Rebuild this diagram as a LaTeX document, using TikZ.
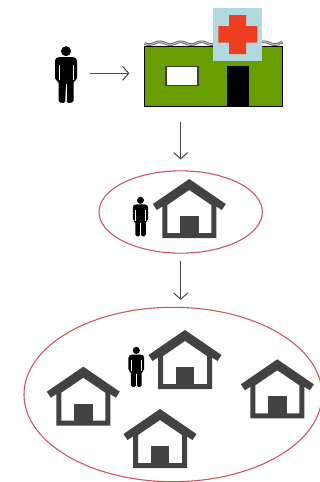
\documentclass[tikz,border=0pt]{standalone}
\usetikzlibrary{arrows.meta,shapes.geometric}
\definecolor{housegray}{RGB}{66,66,66}
\definecolor{ringred}{RGB}{205,85,95}
\definecolor{hgreen}{RGB}{104,158,0}
\definecolor{signblue}{RGB}{178,216,224}
\definecolor{crossred}{RGB}{238,62,32}
\definecolor{arrowgray}{RGB}{70,70,70}
\tikzset{
  ring/.style={ellipse,draw=ringred,line width=1.1pt,inner sep=0pt},
  flow/.style={draw=arrowgray,line width=1pt,-{Straight Barb[length=6pt,width=14pt,line width=1pt]}},
  box/.style={rectangle,inner sep=0pt,outer sep=0pt},
  house/.pic={
    \fill[housegray,even odd rule]
      (0,0) -- (36.5,25) -- (32.5,31) -- (27,27.5) -- (27,59) -- (-27,59) -- (-27,27.5) -- (-32.5,31) -- (-36.5,25) -- cycle
      (0,11) -- (22,26) -- (22,54) -- (-22,54) -- (-22,26) -- cycle;
    \fill[housegray] (-9.3,37) rectangle (9.3,55);
  },
  man/.pic={
    \fill[black] (0,5.2) circle (5);
    \fill[black,rounded corners=1.6pt]
      (-8,11) -- (8,11) -- (11,13) -- (11,34) -- (7.5,35) -- (7.5,56.5) -- (0.8,57) -- (0,37) -- (-0.8,57) -- (-7.5,56.5) -- (-7.5,35) -- (-11,34) -- (-11,13) -- cycle;
    \draw[white,line width=.55pt] (-6.8,19) -- (-6.8,34) (6.8,19) -- (6.8,34) (0,38) -- (0,55);
  }
}
\begin{document}
\begin{tikzpicture}[x=1pt,y=-1pt]
\useasboundingbox (0,0) rectangle (320,482);
\clip (0,0) rectangle (320,482);
% hospital
\draw[line width=2.6pt,black!70,domain=144.5:282.5,samples=90,smooth] plot (\x,{43.2+1.4*sin(17.2*(\x-144))});
\draw[line width=1.2pt,black!25,domain=144.5:282.5,samples=90,smooth] plot (\x,{43.2+1.4*sin(17.2*(\x-144))});
\node[box,fill=hgreen,draw=black,line width=1pt,minimum width=138.4pt,minimum height=60pt] (hospital) at (213.5,76.7) {};
\node[box,fill=white,draw=black!75,line width=1.2pt,minimum width=32pt,minimum height=19.5pt] (window) at (182,76) {};
\node[box,fill=black,minimum width=22.6pt,minimum height=41pt] (door) at (238,86.2) {};
\node[box,fill=signblue,minimum width=48.4pt,minimum height=52.7pt] (sign) at (237.5,34.7) {};
\fill[crossred] (229,15) -- (246,15) -- (246,26) -- (257.3,26) -- (257.3,42.7) -- (246,42.7) -- (246,54) -- (229,54) -- (229,42.7) -- (218.3,42.7) -- (218.3,26) -- (229,26) -- cycle;
% person at the top
\node[box,minimum width=22pt,minimum height=57pt] (person) at (66,74.5) {};
\pic[scale=1] at (66,46) {man};
% rings
\node[ring,minimum width=163.3pt,minimum height=82.3pt] (small) at (180.7,212) {};
\node[ring,minimum width=298pt,minimum height=174.4pt] (large) at (173,394.5) {};
% small ring contents
\pic[scale=.7] at (140.5,196.7) {man};
\pic at (189.3,179) {house};
% large ring contents
\pic[scale=.71] at (136.3,346.7) {man};
\pic at (185,330) {house};
\pic at (83.3,366.7) {house};
\pic at (277.3,359.3) {house};
\pic at (160,409) {house};
% connectors
\path[flow,shorten <=13pt,shorten >=15pt] (person.east |- 0,73.3) -- (hospital.west |- 0,73.3);
\path[flow,shorten <=15pt,shorten >=11pt] (small.north |- hospital.south) -- (small.north);
\path[flow,shorten <=7pt,shorten >=7pt] (small.south) -- (small.south |- large.north);
\end{tikzpicture}
\end{document}
